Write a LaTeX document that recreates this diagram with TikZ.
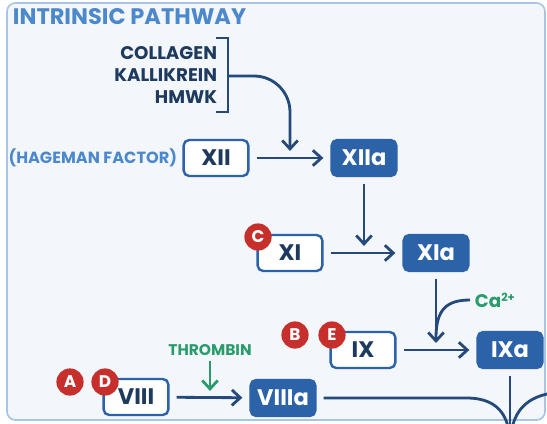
\documentclass[tikz,border=0pt]{standalone}
\usepackage{fontspec}
\setmainfont{Poppins}
\usetikzlibrary{arrows.meta,positioning,calc}
\definecolor{PathInk}{HTML}{1E3A5F}
\definecolor{PathBlue}{HTML}{2C62A8}
\definecolor{PathNavy}{HTML}{24497A}
\definecolor{PathSky}{HTML}{4C88CC}
\definecolor{PathFrame}{HTML}{A9C5E4}
\definecolor{PathPale}{HTML}{F3F7FB}
\definecolor{PathGreen}{HTML}{2A9C6C}
\definecolor{PathRed}{HTML}{C62F2C}

\begin{document}
\begin{tikzpicture}[x=0.025cm,y=-0.025cm,
  factor/.style={draw=PathBlue,line width=1.7pt,fill=white,text=PathInk,rounded corners=4pt,minimum width=1.62cm,minimum height=0.9cm,font=\fontsize{16}{17}\selectfont\bfseries},
  active/.style={factor,fill=PathBlue,text=white},
  badge/.style={circle,fill=PathRed,text=white,minimum size=0.68cm,inner sep=0pt,font=\fontsize{12}{13}\selectfont\bfseries},
  wire/.style={draw=PathNavy,line width=2pt},
  flow/.style={wire,-{Straight Barb[length=6pt,width=11pt]},shorten <=5pt,shorten >=5pt}]
\clip (0,0) rectangle (547,423);
\draw[PathFrame,fill=PathPale,line width=1.2pt,rounded corners=6pt] (7,3) rectangle (545,420);
\node[anchor=west,text=PathSky,font=\fontsize{16}{18}\selectfont\bfseries] (title) at (8,17) {INTRINSIC PATHWAY};
\node[anchor=east,align=right,text=PathInk,font=\fontsize{13}{15.6}\selectfont\bfseries] (stim) at (222,75) {COLLAGEN\\KALLIKREIN\\HMWK};
\draw[wire] (216,38) -- (228,38) -- (228,112) -- (216,112);
\coordinate (brace) at (228,76);
\node[anchor=east,text=PathSky,font=\fontsize{11.5}{14}\selectfont\bfseries] (hageman) at (182,158) {(HAGEMAN FACTOR)};
\node[factor] (xii) at (216,158) {XII};
\node[active] (xiia) at (364,158) {XIIa};
\node[factor] (xi) at (290,253) {XI};
\node[active] (xia) at (436,253) {XIa};
\node[factor] (ix) at (363,350) {IX};
\node[active] (ixa) at (510,350) {IXa};
\node[factor] (viii) at (136,397) {VIII};
\node[active] (viiia) at (283,398) {VIIIa};
\node[badge] (c) at (258,237) {C};
\node[badge] (b) at (295,335) {B};
\node[badge] (e) at (332,335) {E};
\node[badge] (a) at (70,382) {A};
\node[badge] (d) at (105,382) {D};
\draw[flow] (xii) -- (xiia);
\draw[flow,shorten <=0pt,rounded corners=0.9cm] (brace) -| ($(xii.east)!0.5!(xiia.west)$);
\draw[flow] (xiia) -- (xiia |- xi);
\draw[flow] (xi) -- (xia);
\draw[flow] (xia) -- (xia |- ix);
\node[anchor=west,text=PathGreen,font=\fontsize{13}{14}\selectfont\bfseries] (ca) at (470,300) {Ca\textsuperscript{\footnotesize 2+}};
\draw[wire] (ca.west) .. controls (446,300) and (436,310) .. (436,338);
\draw[flow] (ix) -- (ixa);
\node[text=PathGreen,font=\fontsize{11}{12}\selectfont\bfseries] (thrombin) at (210,350) {THROMBIN};
\draw[wire,draw=PathGreen,-{Straight Barb[length=6pt,width=11pt]},shorten >=5pt] (thrombin.south) -- (thrombin |- viiia);
\draw[flow] (viii) -- (viiia);
\coordinate (merge) at (510,445);
\coordinate (ixin) at (560,392);
\draw[wire,shorten <=5pt] (viiia.east) -- ++(150,0) .. controls +(35,0) and +(0,-25) .. (merge);
\draw[wire,shorten <=5pt] (ixa.south) -- (merge);
\draw[wire] (ixin) .. controls (525,395) and (511,412) .. (merge);
\end{tikzpicture}
\end{document}
